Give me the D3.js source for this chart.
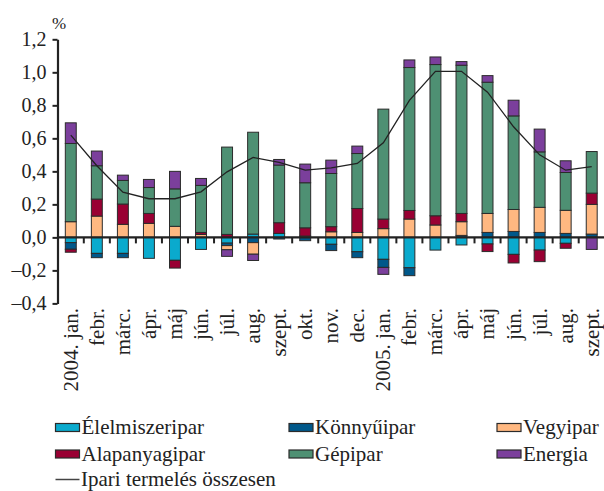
<!DOCTYPE html>
<html>
<head>
<meta charset="utf-8">
<script src="https://cdn.jsdelivr.net/npm/d3@7"></script>
<style>
  body { margin: 0; background: #fff; }
  text { font-family: "Liberation Serif", "Times New Roman", serif; fill: #222; }
</style>
</head>
<body>
<script>
// monthly contributions to industrial production growth, percentage points
const months = ["2004. jan.", "febr.", "márc.", "ápr.", "máj", "jún.", "júl.", "aug.", "szept.", "okt.", "nov.", "dec.",
  "2005. jan.", "febr.", "márc.", "ápr.", "máj", "jún.", "júl.", "aug.", "szept."];

const elelmiszeripar = [-0.032, -0.097, -0.097, -0.127, -0.139, -0.073, -0.035, 0.02, 0.024, 0, -0.042, -0.087,
  -0.133, -0.184, -0.077, -0.046, -0.04, -0.103, -0.077, -0.036, 0];
const konnyuipar = [-0.04, -0.026, -0.026, 0, 0, 0, -0.015, -0.032, -0.01, -0.02, -0.038, -0.036,
  -0.049, -0.048, 0, 0.012, 0.03, 0.036, 0.03, 0.024, 0.02];
const vegyipar = [0.095, 0.129, 0.079, 0.085, 0.067, 0.018, -0.025, -0.07, 0, 0.008, 0.034, 0.03,
  0.053, 0.111, 0.075, 0.083, 0.115, 0.133, 0.152, 0.14, 0.18];
const alapanyagipar = [-0.018, 0.103, 0.123, 0.06, -0.047, 0.012, 0.018, 0, 0.065, 0.05, 0.031, 0.145,
  0.058, 0.052, 0.056, 0.05, -0.046, -0.052, -0.07, -0.03, 0.068];
const gepipar = [0.474, 0.202, 0.143, 0.157, 0.227, 0.285, 0.529, 0.617, 0.349, 0.273, 0.322, 0.333,
  0.666, 0.866, 0.916, 0.898, 0.795, 0.567, 0.336, 0.229, 0.252];
const energia = [0.125, 0.089, 0.032, 0.049, 0.106, 0.042, -0.04, -0.038, 0.034, 0.113, 0.081, 0.045,
  -0.042, 0.046, 0.046, 0.022, 0.04, 0.095, 0.138, 0.071, -0.073];
const osszesen = [0.619, 0.434, 0.274, 0.234, 0.234, 0.276, 0.397, 0.484, 0.454, 0.407, 0.421, 0.448,
  0.573, 0.83, 1.006, 1.006, 0.88, 0.67, 0.5, 0.407, 0.428];

const yTicks = [-0.4, -0.2, 0, 0.2, 0.4, 0.6, 0.8, 1.0, 1.2];

const series = [
  { name: "Élelmiszeripar", values: elelmiszeripar, color: "#0aaacd" },
  { name: "Könnyűipar", values: konnyuipar, color: "#00588a" },
  { name: "Vegyipar", values: vegyipar, color: "#ffb881" },
  { name: "Alapanyagipar", values: alapanyagipar, color: "#990033" },
  { name: "Gépipar", values: gepipar, color: "#4e9073" },
  { name: "Energia", values: energia, color: "#7b3f9c" }
];
const lineName = "Ipari termelés összesen";

const width = 604, height = 491;
const plotLeft = 57.5, plotRight = 605, plotTop = 39.3, plotBottom = 303.4;

const svg = d3.select("body").append("svg")
  .attr("width", width)
  .attr("height", height);

const x = d3.scaleBand()
  .domain(months.map((m, i) => i))
  .range([plotLeft, plotRight])
  .paddingInner(0.58)
  .paddingOuter(0.3);

const y = d3.scaleLinear()
  .domain([-0.4, 1.2])
  .range([plotBottom, plotTop]);

// rows for the stack
const rows = months.map((m, i) => {
  const r = { i };
  series.forEach(s => { r[s.name] = s.values[i]; });
  return r;
});

const stacked = d3.stack()
  .keys(series.map(s => s.name))
  .offset(d3.stackOffsetDiverging)(rows);

// bars
svg.append("g")
  .selectAll("g")
  .data(stacked)
  .join("g")
  .attr("fill", (d, i) => series[i].color)
  .selectAll("rect")
  .data(d => d.filter(p => p[0] !== p[1]))
  .join("rect")
  .attr("x", d => x(d.data.i))
  .attr("y", d => y(Math.max(d[0], d[1])))
  .attr("width", x.bandwidth())
  .attr("height", d => Math.abs(y(d[0]) - y(d[1])))
  .attr("stroke", "#2b2b2b")
  .attr("stroke-width", 1);

// y axis
const yAxis = svg.append("g")
  .attr("transform", `translate(${plotLeft},0)`)
  .call(d3.axisLeft(y)
    .tickValues(yTicks)
    .tickSize(5)
    .tickSizeOuter(0)
    .tickPadding(6)
    .tickFormat(d => (d < 0 ? "\u2013" : "") + d3.format(".1f")(Math.abs(d)).replace(".", ",")));
yAxis.select(".domain").attr("stroke", "#222").attr("stroke-width", 2.2);
yAxis.selectAll(".tick line").attr("stroke", "#222").attr("stroke-width", 2);
yAxis.selectAll(".tick text")
  .style("font-family", "Liberation Serif")
  .style("font-size", "20px")
  .attr("fill", "#333");

svg.append("text")
  .attr("x", 52)
  .attr("y", 29)
  .style("font-size", "17px")
  .text("%");

// zero line with ticks between months
svg.append("line")
  .attr("x1", plotLeft).attr("x2", width)
  .attr("y1", y(0)).attr("y2", y(0))
  .attr("stroke", "#222")
  .attr("stroke-width", 2.2);

const gap = x.step() - x.bandwidth();
svg.append("g")
  .selectAll("line")
  .data(months.slice(1).map((m, i) => i + 1))
  .join("line")
  .attr("x1", d => x(d) - gap / 2)
  .attr("x2", d => x(d) - gap / 2)
  .attr("y1", y(0))
  .attr("y2", y(0) + 6)
  .attr("stroke", "#222")
  .attr("stroke-width", 2);

// month labels
svg.append("g")
  .selectAll("text")
  .data(months)
  .join("text")
  .attr("transform", (d, i) => `translate(${x(i) + x.bandwidth() / 2},308) rotate(-90)`)
  .attr("text-anchor", "end")
  .attr("dy", "0.33em")
  .style("font-size", "21px")
  .text(d => d);

// total line
svg.append("path")
  .datum(osszesen)
  .attr("fill", "none")
  .attr("stroke", "#222")
  .attr("stroke-width", 1.3)
  .attr("d", d3.line()
    .x((d, i) => x(i) + x.bandwidth() / 2)
    .y(d => y(d)));

// legend
const legendCols = [55.5, 289, 497];
const legendRows = [423.5, 450];
const legend = svg.append("g")
  .selectAll("g")
  .data(series)
  .join("g")
  .attr("transform", (d, i) => `translate(${legendCols[i % 3]},${legendRows[Math.floor(i / 3)]})`);
legend.append("rect")
  .attr("width", 24)
  .attr("height", 8)
  .attr("fill", d => d.color)
  .attr("stroke", "#2b2b2b")
  .attr("stroke-width", 1.2);
legend.append("text")
  .attr("x", 26)
  .attr("y", 10.5)
  .style("font-size", "21px")
  .text(d => d.name);

svg.append("line")
  .attr("x1", 55.5).attr("x2", 79.5)
  .attr("y1", 479.5).attr("y2", 479.5)
  .attr("stroke", "#444")
  .attr("stroke-width", 1.5);
svg.append("text")
  .attr("x", 81)
  .attr("y", 486)
  .style("font-size", "21px")
  .text(lineName);
</script>
</body>
</html>
